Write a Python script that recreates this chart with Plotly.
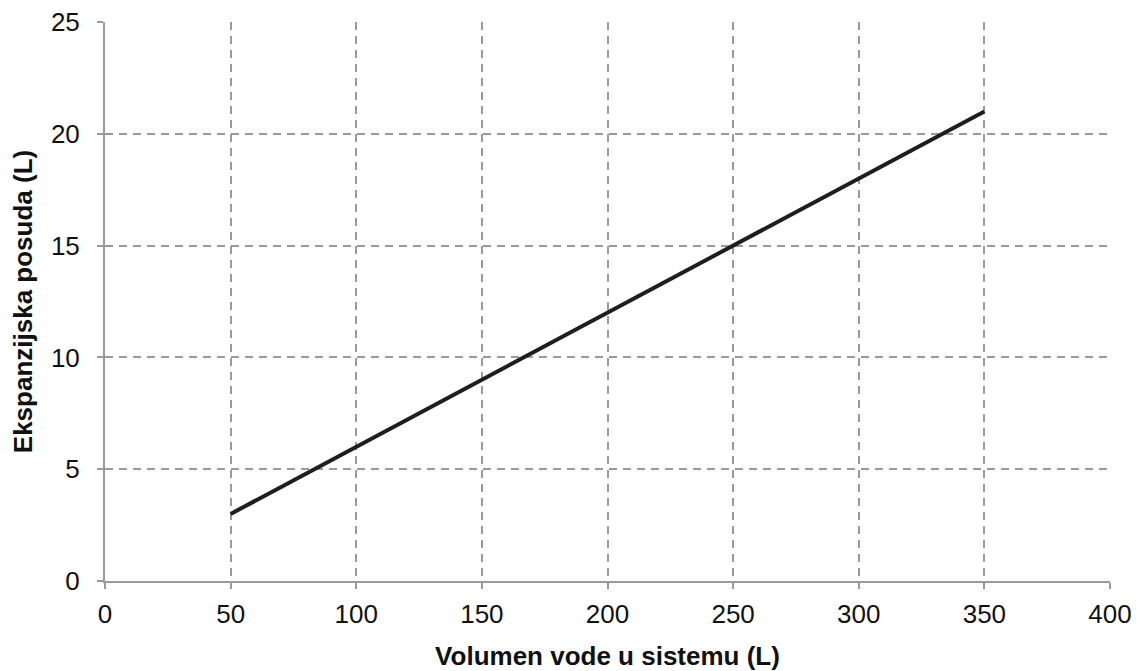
import plotly.graph_objects as go

# water volume in system (L) vs expansion vessel size (L)
volumen = [50, 100, 150, 200, 250, 300, 350]
posuda = [3, 6, 9, 12, 15, 18, 21]

x_ticks = [0, 50, 100, 150, 200, 250, 300, 350, 400]
y_ticks = [0, 5, 10, 15, 20, 25]

GRID = "#9a9a9a"
FONT = "Liberation Sans, Arial, sans-serif"

fig = go.Figure(go.Scatter(
    x=volumen, y=posuda, mode="lines",
    line=dict(color="#1e1e1e", width=4),
    hoverinfo="skip",
))

axis_common = dict(
    showgrid=True, gridcolor=GRID, griddash="8px,6px", gridwidth=1.5,
    showline=True, linecolor=GRID, linewidth=2,
    ticks="outside", ticklen=6, tickwidth=1.5, tickcolor=GRID,
    tickfont=dict(family=FONT, size=26, color="#111"),
    ticklabeloverflow="allow",
    zeroline=False, fixedrange=True, automargin=False,
)

fig.update_xaxes(
    range=[0, 400], tickvals=x_ticks, ticklabelstandoff=3,
    title=dict(text="<b>Volumen vode u sistemu (L)</b>",
               font=dict(family=FONT, size=26, color="#111"), standoff=20),
    **axis_common,
)
fig.update_yaxes(
    range=[0, 25], tickvals=y_ticks, ticklabelstandoff=12,
    title=dict(text="<b>Ekspanzijska posuda (L)</b>",
               font=dict(family=FONT, size=26, color="#111"), standoff=18),
    **axis_common,
)

# page body has an 8px margin, so size the figure to fit the window
fig.update_layout(
    width=1131, height=663,
    margin=dict(l=97, r=29, t=14, b=90),
    paper_bgcolor="white", plot_bgcolor="white",
    showlegend=False,
)

fig.write_html("out.html")
